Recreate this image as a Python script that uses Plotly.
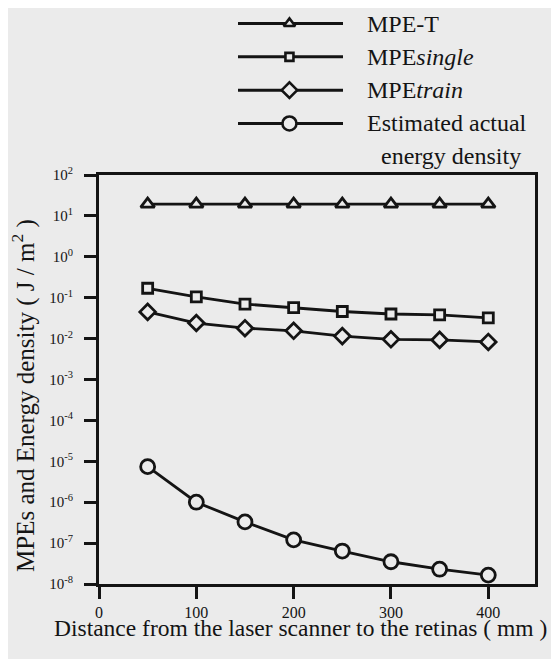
import plotly.graph_objects as go

# ---- data ----
distance_mm = [50, 100, 150, 200, 250, 300, 350, 400]
mpe_t = [19.5, 19.5, 19.5, 19.5, 19.5, 19.5, 19.5, 19.5]
mpe_single = [0.17, 0.105, 0.070, 0.057, 0.046, 0.040, 0.038, 0.032]
mpe_train = [0.045, 0.024, 0.018, 0.0155, 0.0115, 0.0096, 0.0093, 0.0083]
actual_energy = [7.4e-6, 1.0e-6, 3.3e-7, 1.2e-7, 6.4e-8, 3.5e-8, 2.3e-8, 1.65e-8]

series_names = ["MPE-T", "MPE<i>single</i>", "MPE<i>train</i>",
                "Estimated actual<br>energy density"]
series_symbols = ["triangle-up", "square", "diamond", "circle"]

x_ticks = [0, 100, 200, 300, 400]
y_exponents = [-8, -7, -6, -5, -4, -3, -2, -1, 0, 1, 2]
y_tickvals = [10.0 ** e for e in y_exponents]
y_ticktext = ["10<sup>%d</sup>" % e for e in y_exponents]

x_title = "Distance from the laser scanner to the retinas ( mm )"
y_title = "MPEs and Energy density ( J / m<sup>2</sup> )"

# ---- style / geometry (page pixels; page body has an 8px margin) ----
PAGE_W, PAGE_H = 559, 659
OFF = 8
W, H = PAGE_W - OFF, PAGE_H - OFF
INK = "#141414"
BG = "#ebebeb"
FONT = "Liberation Serif"

plot_sizes = [12, 10, 12, 14]
legend_sizes = [10, 8, 12, 14]

def px_x(p):
    return min(1.0, max(0.0, (p - OFF) / W))

def px_y(p):
    return min(1.0, max(0.0, (PAGE_H - p) / H))

fig = go.Figure()

series_values = [mpe_t, mpe_single, mpe_train, actual_energy]
for vals, sym, sz in zip(series_values, series_symbols, plot_sizes):
    fig.add_trace(go.Scatter(
        x=distance_mm, y=vals, mode="lines+markers",
        line=dict(color=INK, width=2.8),
        marker=dict(symbol=sym, size=sz, color=BG,
                    line=dict(color=INK, width=2.8)),
        cliponaxis=False, showlegend=False, xaxis="x", yaxis="y",
    ))

# custom legend drawn on its own small axes
for i, (sym, sz) in enumerate(zip(series_symbols, legend_sizes)):
    fig.add_trace(go.Scatter(
        x=[0, 1], y=[i, i], mode="lines",
        line=dict(color=INK, width=3),
        showlegend=False, xaxis="x2", yaxis="y2", hoverinfo="skip",
        cliponaxis=False,
    ))
    fig.add_trace(go.Scatter(
        x=[0.49], y=[i], mode="markers",
        marker=dict(symbol=sym, size=sz, color=BG,
                    line=dict(color=INK, width=2.6)),
        showlegend=False, xaxis="x2", yaxis="y2", hoverinfo="skip",
        cliponaxis=False,
    ))

ROW0, ROW_STEP = 23.5, 33.33
LEG_X0, LEG_X1 = 238, 343
TOP_PAD, BOT_PAD = 0.3, 0.5
legend_rows_px = [ROW0 + ROW_STEP * k for k in range(len(series_names))]
annotations = []
for i, name in enumerate(series_names):
    lines = name.split("<br>")
    annotations.append(dict(
        text=lines[0], x=px_x(365), y=px_y(legend_rows_px[i]),
        xref="paper", yref="paper",
        xanchor="left", yanchor="middle", showarrow=False,
        font=dict(family=FONT, size=24, color=INK)))
    for j, extra in enumerate(lines[1:]):
        annotations.append(dict(
            text=extra, x=px_x(523), y=px_y(legend_rows_px[i] + 33 * (j + 1)),
            xref="paper", yref="paper",
            xanchor="right", yanchor="middle", showarrow=False,
            font=dict(family=FONT, size=24, color=INK)))

annotations.append(dict(
    text=x_title, x=px_x(300), y=px_y(628), xref="paper", yref="paper",
    xanchor="center", yanchor="middle", showarrow=False,
    font=dict(family=FONT, size=23.5, color=INK)))
annotations.append(dict(
    text=y_title, x=px_x(23), y=px_y(396), xref="paper", yref="paper",
    xanchor="center", yanchor="middle", showarrow=False, textangle=-90,
    font=dict(family=FONT, size=25, color=INK)))

leg_pad_x = 0.1 * (LEG_X1 - LEG_X0)

fig.update_layout(
    width=W, height=H,
    margin=dict(l=0, r=0, t=0, b=0, pad=0),
    paper_bgcolor=BG, plot_bgcolor=BG,
    template="none",
    font=dict(family=FONT, color=INK),
    annotations=annotations,
    xaxis=dict(
        domain=[px_x(99), px_x(535)], range=[0, 448],
        showline=True, linecolor=INK, linewidth=3, mirror=True,
        ticks="outside", ticklen=12, tickwidth=3, tickcolor=INK,
        tickvals=x_ticks, ticktext=[str(v) for v in x_ticks],
        tickfont=dict(family=FONT, size=16, color=INK),
        showgrid=False, zeroline=False, automargin=False,
        anchor="y",
    ),
    yaxis=dict(
        domain=[px_y(584), px_y(175)], type="log", range=[-8, 2],
        showline=True, linecolor=INK, linewidth=3, mirror=True,
        ticks="outside", ticklen=12, tickwidth=3, tickcolor=INK,
        tickvals=y_tickvals, ticktext=y_ticktext,
        tickfont=dict(family=FONT, size=15, color=INK),
        ticklabelstandoff=8,
        showgrid=False, zeroline=False, automargin=False,
        anchor="x",
    ),
    xaxis2=dict(
        domain=[px_x(LEG_X0 - leg_pad_x), px_x(LEG_X1 + leg_pad_x)],
        range=[-0.1, 1.1],
        visible=False, fixedrange=True, anchor="y2",
    ),
    yaxis2=dict(
        domain=[px_y(ROW0 + ROW_STEP * (3 + BOT_PAD)),
                px_y(ROW0 - ROW_STEP * TOP_PAD)],
        range=[3 + BOT_PAD, -TOP_PAD],
        visible=False, fixedrange=True, anchor="x2",
    ),
)

fig.write_html("out.html")
